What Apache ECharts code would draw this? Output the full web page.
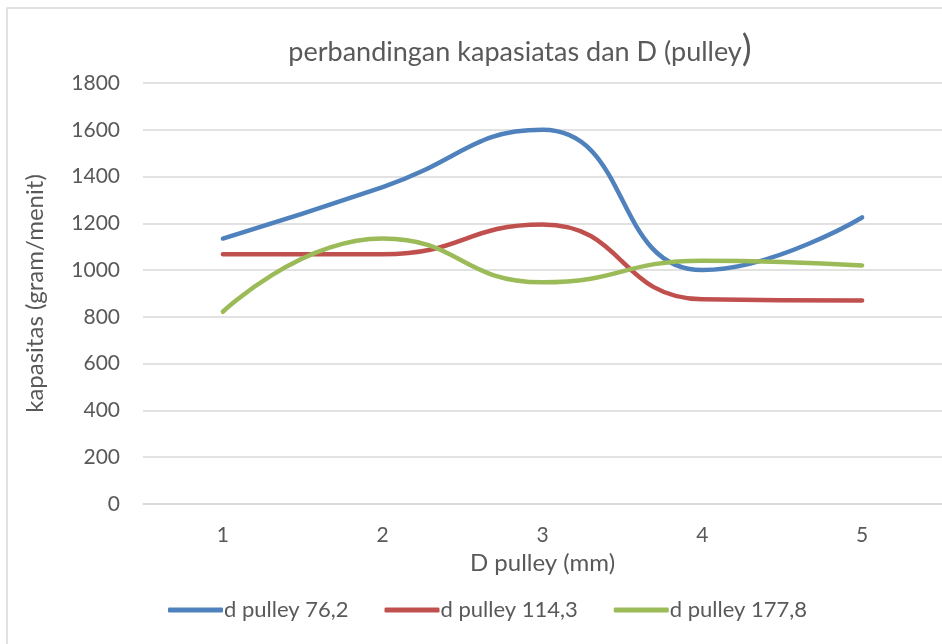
<!DOCTYPE html>
<html>
<head>
<meta charset="utf-8">
<script src="https://cdn.jsdelivr.net/npm/echarts@6/dist/echarts.min.js"></script>
<style>html,body{margin:0;padding:0;background:#fff}#c{width:942px;height:644px}</style>
</head>
<body>
<div id="c"></div>
<script>
var categories = ['1', '2', '3', '4', '5'];
var seriesNames = ['d pulley 76,2', 'd pulley 114,3', 'd pulley 177,8'];
var pulley762 = [1135, 1355, 1600, 1000, 1225];
var pulley1143 = [1068, 1068, 1195, 875, 870];
var pulley1778 = [822, 1135, 948, 1040, 1020];
var yTicks = {min: 0, max: 1800, interval: 200};

var colors = ['#4F81BD', '#C0504D', '#9BBB59'];
var font = 'Lato, "Open Sans", sans-serif';
var txt = '#595959';
var chart = echarts.init(document.getElementById('c'));
function mk(name, data, i) {
  return {
    name: name, type: 'line', data: data, smooth: 0.5,
    symbol: 'none', lineStyle: {width: 4.5, color: colors[i], cap: 'round'},
    itemStyle: {color: colors[i]}
  };
}
chart.setOption({
  animation: false,
  graphic: [{type: 'rect', shape: {x: 7, y: 8, width: 960, height: 660},
    style: {fill: 'none', stroke: '#d9d9d9', lineWidth: 1.5}, silent: true}],
  title: {
    text: 'perbandingan kapasiatas dan D (pulley{b|)}',
    left: 515, top: 26, textAlign: 'center',
    textStyle: {fontFamily: font, fontSize: 27, fontWeight: 'normal', color: txt,
      rich: {b: {fontFamily: font, fontSize: 37, color: txt, padding: [0,0,5,0]}}}
  },
  grid: {left: 143, right: -4, top: 83, bottom: 140, containLabel: false},
  legend: {
    data: seriesNames, top: 594, left: 163, itemGap: 36, itemWidth: 55, itemHeight: 5,
    icon: 'roundRect', itemStyle: {borderWidth: 0}, itemTextGap: 4,
    textStyle: {fontFamily: font, fontSize: 22, color: txt, padding: [0,0,0,-4]}
  },
  xAxis: {
    type: 'category', data: categories, boundaryGap: true,
    name: 'D pulley (mm)', nameLocation: 'middle', nameGap: 47,
    nameTextStyle: {fontFamily: font, fontSize: 24, color: txt},
    axisLine: {lineStyle: {color: '#d9d9d9', width: 1.5}},
    axisTick: {show: false},
    axisLabel: {fontFamily: font, fontSize: 21, color: txt, margin: 21}
  },
  yAxis: {
    type: 'value', min: yTicks.min, max: yTicks.max, interval: yTicks.interval,
    name: 'kapasitas (gram/menit)', nameLocation: 'middle', nameGap: 96,
    nameTextStyle: {fontFamily: font, fontSize: 24, color: txt},
    axisLine: {show: false}, axisTick: {show: false},
    axisLabel: {fontFamily: font, fontSize: 21, color: txt, margin: 23,
      formatter: function (v) { return String(v); }},
    splitLine: {lineStyle: {color: '#d9d9d9', width: 1.5}}
  },
  series: [mk(seriesNames[0], pulley762, 0), mk(seriesNames[1], pulley1143, 1), mk(seriesNames[2], pulley1778, 2)]
});
</script>
</body>
</html>
